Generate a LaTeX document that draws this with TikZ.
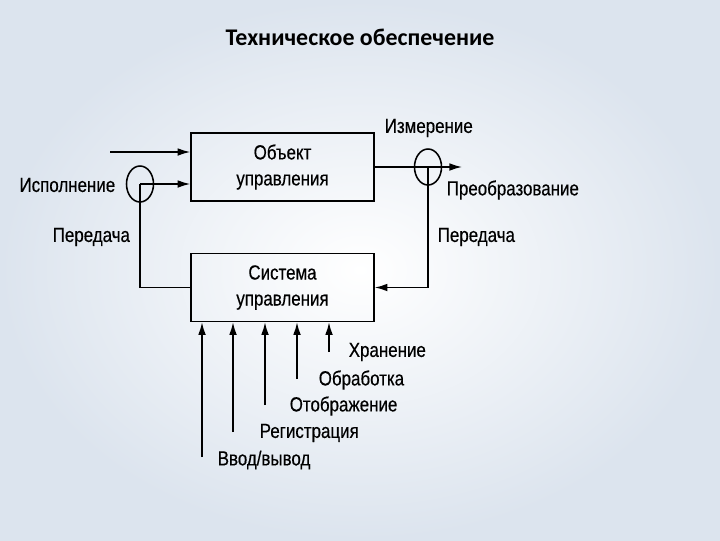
\documentclass[tikz,border=0pt]{standalone}
\usepackage{fontspec}
\setmainfont{Liberation Sans}[FakeStretch=0.83, FakeBold=0.4]
\newfontfamily\titlefont{Carlito}
\usetikzlibrary{calc,shapes,arrows.meta}
\definecolor{bgedge}{RGB}{220,228,238}

\begin{document}
\begin{tikzpicture}[x=0.025cm, y=-0.025cm, line width=1.1pt, >={Latex[length=9pt,width=5.5pt]},
  box/.style={draw, rectangle, minimum width=183*0.025cm, minimum height=68*0.025cm, align=center, font=\fontsize{14.5}{18.5}\selectfont},
  ring/.style={draw, ellipse, minimum width=27*0.025cm, minimum height=36*0.025cm, inner sep=0pt},
  lbl/.style={font=\fontsize{14.5}{16}\selectfont, inner sep=0pt}]
\shade[inner color=white, outer color=bgedge, draw=none] (0,0) rectangle (720,540);
\useasboundingbox (0,0) rectangle (720,540);
\node[font=\titlefont\bfseries\fontsize{17}{20}\selectfont] (title) at (360,37) {Техническое обеспечение};
\node[box] (obj) at (282.5,167) {Объект\\управления};
\node[box] (sys) at (282.5,287.5) {Система\\управления};
\node[ring] (lc) at (140,184) {};
\node[ring] (rc) at (428,167) {};
\coordinate (in1) at (110,152);
\coordinate (out) at (462,167);
\draw[->] (in1) -- (in1 -| obj.west);
\draw[->] (lc.center) -- (lc.center -| obj.west);
\draw (lc.center) -- (lc.center |- sys.west) -- (sys.west);
\draw[->] (obj.east) -- (out);
\draw[->] (rc.center) -- (rc.center |- sys.east) -- (sys.east);
\foreach \i/\x/\y in {1/202/457, 2/233/432, 3/265/405, 4/297/379, 5/329/352}
{
  \coordinate (b\i) at (\x,\y);
  \draw[->] (b\i) -- (b\i |- sys.south);
}
% labels
\node[lbl, anchor=east] (isp) at (116,185) {Исполнение};
\node[lbl, anchor=west] (perl) at (52,237) {Передача};
\node[lbl, anchor=west] (izm) at (384,128) {Измерение};
\node[lbl, anchor=west] (preo) at (446,190) {Преобразование};
\node[lbl, anchor=west] (perr) at (437,237) {Передача};
\node[lbl, anchor=west] (hr) at (348,352) {Хранение};
\node[lbl, anchor=west] (obr) at (318,380) {Обработка};
\node[lbl, anchor=west] (otob) at (289,406) {Отображение};
\node[lbl, anchor=west] (reg) at (259,433) {Регистрация};
\node[lbl, anchor=west] (vv) at (217,460) {Ввод/вывод};
\end{tikzpicture}
\end{document}
